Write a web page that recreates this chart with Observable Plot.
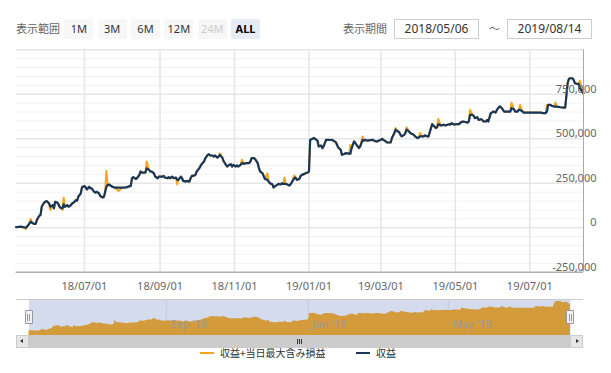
<!DOCTYPE html>
<html><head><meta charset="utf-8">
<script src="https://cdn.jsdelivr.net/npm/d3@7"></script>
<script src="https://cdn.jsdelivr.net/npm/@observablehq/plot@0.6"></script>
<style>
body{margin:0;background:#fff;font-family:"Noto Sans","Noto Sans CJK JP",sans-serif;}
#wrap{position:relative;width:611px;height:373px;overflow:hidden;}
.abs{position:absolute;}
.lbl{font-size:11px;color:#666;line-height:20px;top:19px;white-space:nowrap;}
.btn{position:absolute;top:19px;width:29px;height:20px;line-height:20px;text-align:center;font-size:11px;color:#333;background:#f7f7f7;border-radius:2px;}
.box{position:absolute;top:19px;width:85px;height:20px;box-sizing:border-box;border:1px solid #ccc;font-size:12px;color:#333;text-align:center;line-height:18px;background:#fff;}
.leg{position:absolute;top:346px;font-size:10px;line-height:13px;color:#333;white-space:nowrap;font-family:"Noto Sans CJK JP",sans-serif;}
.sw{position:absolute;top:352px;width:14px;height:2px;}
</style></head>
<body>
<div id="wrap">
  <div id="main" class="abs" style="left:0;top:0"></div>
  <div id="nav" class="abs" style="left:0;top:295px"></div>
  <div class="abs lbl" style="left:16px;">表示範囲</div>
  <div id="btns"></div>
  <div class="abs lbl" style="left:343px;">表示期間</div>
  <div class="box" id="box1" style="left:394px;"></div>
  <div class="abs lbl" style="left:489px;">～</div>
  <div class="box" id="box2" style="left:507px;"></div>
  <div id="extras"></div>
</div>
<script>
const rangeStart = "2018-05-06", rangeEnd = "2019-08-14";
const rangeButtons = ["1M","3M","6M","12M","24M","ALL"];
const seriesNames = ["収益+当日最大含み損益","収益"];
const dates = [
"2018-05-06","2018-05-07","2018-05-10","2018-05-14","2018-05-16","2018-05-18","2018-05-19","2018-05-21","2018-05-22","2018-05-23","2018-05-25","2018-05-26","2018-05-27","2018-05-29","2018-05-30","2018-05-31",
"2018-06-02","2018-06-03","2018-06-05","2018-06-06","2018-06-07","2018-06-09","2018-06-10","2018-06-11","2018-06-13","2018-06-14","2018-06-15","2018-06-17","2018-06-18","2018-06-20","2018-06-21","2018-06-22","2018-06-24","2018-06-25","2018-06-26","2018-06-28","2018-06-29",
"2018-07-01","2018-07-02","2018-07-03","2018-07-05","2018-07-06","2018-07-07","2018-07-09","2018-07-10","2018-07-11","2018-07-13","2018-07-14","2018-07-16","2018-07-17","2018-07-18","2018-07-19","2018-07-20","2018-07-21","2018-07-24","2018-07-26","2018-07-29",
"2018-08-01","2018-08-04","2018-08-06","2018-08-08","2018-08-09","2018-08-10","2018-08-12","2018-08-13","2018-08-15","2018-08-16","2018-08-17","2018-08-19","2018-08-20","2018-08-21","2018-08-23","2018-08-24","2018-08-25","2018-08-27","2018-08-28","2018-08-30","2018-08-31",
"2018-09-03","2018-09-04","2018-09-05","2018-09-07","2018-09-08","2018-09-09","2018-09-11","2018-09-12","2018-09-14","2018-09-15","2018-09-16","2018-09-18","2018-09-19","2018-09-20","2018-09-22","2018-09-23","2018-09-25","2018-09-26","2018-09-27","2018-09-29","2018-09-30",
"2018-10-01","2018-10-03","2018-10-04","2018-10-05","2018-10-07","2018-10-08","2018-10-10","2018-10-11","2018-10-12","2018-10-14","2018-10-15","2018-10-16","2018-10-18","2018-10-19","2018-10-20","2018-10-22","2018-10-23","2018-10-25","2018-10-26","2018-10-27","2018-10-29","2018-10-30","2018-10-31",
"2018-11-02","2018-11-03","2018-11-04","2018-11-06","2018-11-07","2018-11-09","2018-11-10","2018-11-13","2018-11-14","2018-11-15","2018-11-17","2018-11-18","2018-11-20","2018-11-21","2018-11-22","2018-11-24","2018-11-25","2018-11-26","2018-11-28","2018-11-29","2018-11-30",
"2018-12-02","2018-12-03","2018-12-05","2018-12-06","2018-12-07","2018-12-09","2018-12-10","2018-12-11","2018-12-12","2018-12-13","2018-12-14","2018-12-16","2018-12-17","2018-12-18","2018-12-20","2018-12-21","2018-12-22","2018-12-24","2018-12-25","2018-12-26","2018-12-28","2018-12-29","2018-12-31",
"2019-01-01","2019-01-02","2019-01-04","2019-01-05","2019-01-06","2019-01-08","2019-01-09","2019-01-11","2019-01-12","2019-01-13","2019-01-15","2019-01-16","2019-01-17","2019-01-19","2019-01-20","2019-01-21","2019-01-23","2019-01-24","2019-01-25","2019-01-27","2019-01-28","2019-01-30","2019-01-31",
"2019-02-03","2019-02-04","2019-02-05","2019-02-07","2019-02-08","2019-02-09","2019-02-11","2019-02-12","2019-02-14","2019-02-15","2019-02-16","2019-02-18","2019-02-19","2019-02-22","2019-02-25","2019-02-26","2019-02-27",
"2019-03-01","2019-03-02","2019-03-03","2019-03-05","2019-03-06","2019-03-07","2019-03-09","2019-03-10","2019-03-12","2019-03-13","2019-03-14","2019-03-16","2019-03-17","2019-03-18","2019-03-20","2019-03-21","2019-03-22","2019-03-24","2019-03-25","2019-03-27","2019-03-28","2019-03-29","2019-03-31",
"2019-04-01","2019-04-02","2019-04-04","2019-04-05","2019-04-06","2019-04-08","2019-04-09","2019-04-11","2019-04-12","2019-04-13","2019-04-15","2019-04-16","2019-04-17","2019-04-19","2019-04-20","2019-04-21","2019-04-23","2019-04-26","2019-04-27","2019-04-28","2019-04-30",
"2019-05-01","2019-05-04","2019-05-05","2019-05-07","2019-05-09","2019-05-11","2019-05-12","2019-05-13","2019-05-15","2019-05-16","2019-05-17","2019-05-19","2019-05-20","2019-05-22","2019-05-23","2019-05-24","2019-05-26","2019-05-27","2019-05-28","2019-05-30","2019-05-31",
"2019-06-01","2019-06-03","2019-06-04","2019-06-06","2019-06-07","2019-06-08","2019-06-10","2019-06-11","2019-06-12","2019-06-14","2019-06-15","2019-06-16","2019-06-18","2019-06-19","2019-06-21","2019-06-22","2019-06-23","2019-06-25","2019-06-26","2019-06-29",
"2019-07-01","2019-07-04","2019-07-07","2019-07-10","2019-07-12","2019-07-14","2019-07-15","2019-07-16","2019-07-18","2019-07-19","2019-07-21","2019-07-22","2019-07-23","2019-07-26","2019-07-29","2019-07-30",
"2019-08-01","2019-08-02","2019-08-03","2019-08-05","2019-08-06","2019-08-07","2019-08-09","2019-08-10","2019-08-11","2019-08-13","2019-08-14"
];
// 収益 (thousand yen)
const profit = [
3,4,6,0,15,34,28,21,21,43,67,71,118,142,146,150,
137,118,127,109,146,140,127,114,109,131,118,127,118,127,137,140,155,152,174,193,227,
234,227,215,230,221,221,202,197,202,193,178,170,174,202,230,240,243,230,225,225,
225,226,231,235,278,284,274,278,297,316,310,310,310,334,325,316,316,306,287,278,287,
287,291,282,278,284,278,287,278,282,269,269,287,278,263,259,263,259,278,291,293,297,
316,334,344,357,372,390,409,413,406,406,400,406,394,400,409,394,375,353,344,350,357,344,353,
344,350,344,353,363,359,363,363,372,391,391,385,363,335,316,306,288,274,269,259,250,
244,226,237,241,246,244,250,246,246,246,244,237,244,256,278,282,269,274,288,297,301,306,310,
316,494,500,504,500,489,457,462,447,457,494,494,494,493,494,489,481,466,451,438,410,414,419,
416,416,448,485,476,466,448,457,494,489,494,489,491,494,485,485,489,
494,500,494,485,479,479,479,504,532,551,545,537,522,513,522,532,551,541,532,526,522,513,504,
507,513,513,513,519,513,513,560,582,575,560,564,582,575,575,579,575,582,579,588,579,
582,582,590,597,594,591,597,634,634,629,616,621,606,610,606,597,597,606,597,644,647,
653,647,662,681,681,672,653,653,653,653,653,672,666,653,653,662,662,653,647,647,
647,647,647,647,644,644,653,690,690,685,681,681,681,677,675,675,
812,836,840,840,830,812,808,808,784,765,756
];
// 収益+当日最大含み損益 (thousand yen)
const profitMax = [
3,4,6,-7,15,49,28,21,21,43,67,71,118,142,146,150,
137,100,127,109,146,140,127,114,100,169,118,127,118,127,137,140,155,152,174,193,227,
234,227,215,230,221,221,202,197,202,193,178,170,174,202,320,240,243,230,225,206,
225,226,231,235,278,284,274,278,297,316,310,310,310,372,325,316,316,306,287,278,287,
287,291,282,278,284,278,287,278,282,244,269,287,278,263,259,263,259,278,291,293,297,
316,334,352,357,372,390,409,413,406,406,400,406,394,400,418,394,375,353,344,350,357,344,353,
344,350,344,353,382,359,363,363,372,391,391,385,363,335,316,306,288,274,306,259,250,
244,226,237,241,246,244,250,246,282,246,244,237,244,256,293,282,269,274,288,297,301,306,310,
316,494,500,504,500,489,457,462,447,457,494,494,494,493,494,489,481,466,451,438,410,414,419,
416,466,448,485,476,466,448,457,513,489,494,489,491,494,485,485,489,
494,500,494,485,479,479,479,504,532,560,545,537,522,513,522,532,564,541,532,526,522,513,504,
507,532,513,513,519,513,513,560,582,575,560,564,612,575,575,579,575,582,579,588,579,
582,582,590,597,594,591,597,662,634,629,616,621,606,610,606,597,597,606,597,644,647,
653,647,662,681,681,672,653,653,653,653,653,703,666,653,653,662,690,653,647,647,
647,647,647,647,644,644,690,690,690,685,681,703,681,677,675,675,
812,836,840,840,830,812,808,808,826,765,756
];
const xTicks = ["2018-07-01","2018-09-01","2018-11-01","2019-01-01","2019-03-01","2019-05-01","2019-07-01"];
const navTicks = ["2018-09-01","2019-01-01","2019-05-01"];
const yTicks = [-250000,0,250000,500000,750000];
const yMajor = [-250000,0,250000,500000,750000,1000000];
const yMinor = [-200000,-150000,-100000,-50000,50000,100000,150000,200000,300000,350000,400000,450000,550000,600000,650000,700000,800000,850000,900000,950000];
const yDomain = [-250000,1000000];
const navYDomain = [-128000,895000];

if (dates.length !== profit.length || dates.length !== profitMax.length) throw new Error("length mismatch " + dates.length + " " + profit.length + " " + profitMax.length);

const ORANGE = "#f7a51c", NAVY = "#17375d";
const table = dates.map((d,i)=>({date:new Date(d), profit:profit[i]*1000, max:profitMax[i]*1000}));
const xDom = [new Date(rangeStart), new Date(rangeEnd)];
const fontFamily = '"Noto Sans","Noto Sans CJK JP",sans-serif';

const main = Plot.plot({
  width:611, height:300,
  marginLeft:15.6, marginRight:28, marginTop:49.3, marginBottom:28.3,
  x:{type:"utc", domain:xDom},
  y:{domain:yDomain},
  style:{background:"transparent", fontFamily, fontSize:"11px", color:"#666", overflow:"visible"},
  marks:[
    Plot.ruleY(yMinor, {stroke:"#f2f2f2", strokeWidth:1}),
    Plot.ruleY(yMajor, {stroke:"#e6e6e6", strokeWidth:1.5}),
    Plot.ruleX(xTicks.map(d=>new Date(d)), {stroke:"#e6e6e6", strokeWidth:1.5}),
    Plot.line(table, {x:"date", y:"max", stroke:ORANGE, strokeWidth:2}),
    Plot.line(table, {x:"date", y:"profit", stroke:NAVY, strokeWidth:2.2}),
    Plot.ruleY([yDomain[0]], {stroke:"#999", strokeWidth:1}),
    Plot.ruleX([xDom[1]], {stroke:"#aaa", strokeWidth:1}),
    Plot.axisY({ticks:yTicks, anchor:"right", tickSize:0, tickPadding:0, textAnchor:"end", dx:13, dy:-5, tickFormat:d=>d.toLocaleString("en-US"), label:null}),
    Plot.axisX({ticks:xTicks.map(d=>new Date(d)), anchor:"bottom", tickSize:0, tickPadding:10, tickFormat:d3.utcFormat("%y/%m/%d"), label:null})
  ]
});
document.getElementById("main").appendChild(main);

const navFmt = d3.utcFormat("%b '%y");
const nav = Plot.plot({
  width:611, height:56,
  marginLeft:28.5, marginRight:41, marginTop:4, marginBottom:16,
  x:{type:"utc", domain:xDom, axis:null},
  y:{domain:navYDomain, axis:null},
  style:{background:"transparent", fontFamily, fontSize:"11px", overflow:"visible"},
  marks:[
    Plot.frame({fill:"#d3dbec", strokeOpacity:0}),
    Plot.ruleX(navTicks.map(d=>new Date(d)), {stroke:"#c3cbdf"}),
    Plot.areaY(table, {x:"date", y1:navYDomain[0], y2:"max", fill:"#d49b3c"}),
    Plot.text(navTicks.map(d=>new Date(d)), {x:d=>d, text:d=>navFmt(d), frameAnchor:"bottom", dy:-8, dx:4, textAnchor:"start", fill:"#9a9a9a"})
  ]
});
document.getElementById("nav").appendChild(nav);

// range buttons
const btns = document.getElementById("btns");
rangeButtons.forEach((b,i)=>{
  const el = document.createElement("div");
  el.className = "btn";
  el.style.left = (64.3 + i*33.35) + "px";
  el.textContent = b;
  if (b === "24M") el.style.color = "#ccc";
  if (b === "ALL") { el.style.background = "#e6ebf5"; el.style.fontWeight = "bold"; el.style.color = "#000"; }
  btns.appendChild(el);
});
document.getElementById("box1").textContent = rangeStart.replace(/-/g,"/");
document.getElementById("box2").textContent = rangeEnd.replace(/-/g,"/");

// navigator chrome, scrollbar, legend
const ex = document.getElementById("extras");
ex.innerHTML = `
<div class="abs" style="left:15.6px;top:298.5px;width:567.4px;height:1px;background:#ccc"></div>
<div class="abs" style="left:24.5px;top:310px;width:8px;height:14px;box-sizing:border-box;background:#f2f2f2;border:1px solid #999;border-radius:1px"></div>
<div class="abs" style="left:27px;top:313.5px;width:1px;height:7px;background:#999"></div>
<div class="abs" style="left:29px;top:313.5px;width:1px;height:7px;background:#999"></div>
<div class="abs" style="left:566px;top:310px;width:8px;height:14px;box-sizing:border-box;background:#f2f2f2;border:1px solid #999;border-radius:1px"></div>
<div class="abs" style="left:568.5px;top:313.5px;width:1px;height:7px;background:#999"></div>
<div class="abs" style="left:570.5px;top:313.5px;width:1px;height:7px;background:#999"></div>
<div class="abs" style="left:15.6px;top:335px;width:567.4px;height:13px;background:#f2f2f2"></div>
<div class="abs" style="left:28.5px;top:335px;width:541.5px;height:13px;background:#ccc"></div>
<div class="abs" style="left:15.6px;top:335px;width:13px;height:13px;box-sizing:border-box;background:#e6e6e6;border:1px solid #ccc"></div>
<div class="abs" style="left:20px;top:339px;width:0;height:0;border-top:2.5px solid transparent;border-bottom:2.5px solid transparent;border-right:3px solid #333"></div>
<div class="abs" style="left:570px;top:335px;width:13px;height:13px;box-sizing:border-box;background:#e6e6e6;border:1px solid #ccc"></div>
<div class="abs" style="left:576px;top:339px;width:0;height:0;border-top:2.5px solid transparent;border-bottom:2.5px solid transparent;border-left:3px solid #333"></div>
<div class="abs" style="left:297px;top:339px;width:1px;height:5px;background:#333"></div>
<div class="abs" style="left:299px;top:339px;width:1px;height:5px;background:#333"></div>
<div class="abs" style="left:301px;top:339px;width:1px;height:5px;background:#333"></div>
<div class="sw" style="left:200px;background:${ORANGE}"></div>
<div class="leg" style="left:220px;">${seriesNames[0]}</div>
<div class="sw" style="left:356px;background:${NAVY}"></div>
<div class="leg" style="left:376px;">${seriesNames[1]}</div>
`;
</script>
</body></html>
